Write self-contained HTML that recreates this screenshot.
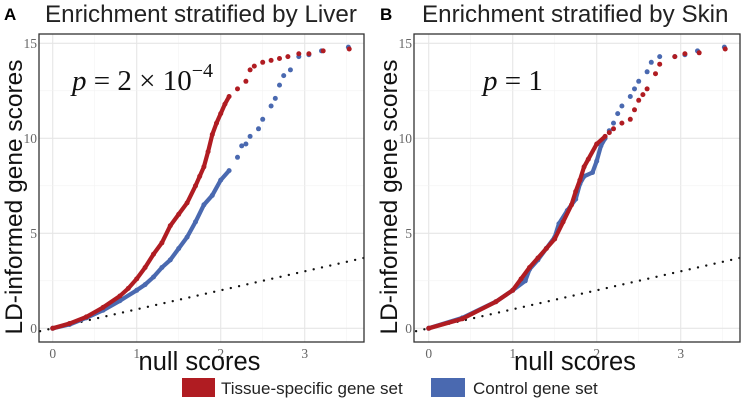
<!DOCTYPE html>
<html><head><meta charset="utf-8"><style>
body{margin:0;background:#fff;width:747px;height:404px;overflow:hidden;font-family:"Liberation Sans",sans-serif}
</style></head><body>
<svg id="s" width="747" height="404" xmlns="http://www.w3.org/2000/svg">
<text x="4" y="20" font-size="17" font-weight="bold">A</text>
<text x="45" y="22" font-size="24.2" fill="#222">Enrichment stratified by Liver</text>
<text x="380" y="20" font-size="17" font-weight="bold">B</text>
<text x="422" y="22" font-size="24.2" fill="#222">Enrichment stratified by Skin</text>
<rect x="182" y="378" width="33" height="19" fill="#b01c22"/>
<text x="221" y="394" font-size="17" fill="#222">Tissue-specific gene set</text>
<rect x="431" y="378" width="34" height="19" fill="#4a69b0"/>
<text x="473" y="394" font-size="17" fill="#222">Control gene set</text>
</svg>
<script>
const xTicks=[0,1,2,3];
const yTicks=[0,5,10,15];
const liverRedX=[0,0.2,0.4,0.6,0.8,0.9,1.0,1.1,1.2,1.3,1.4,1.5,1.6,1.7,1.75,1.8,1.85,1.9,1.95,2.0,2.05,2.1,2.2,2.3,2.35,2.4,2.5,2.6,2.7,2.8,2.93,3.05,3.22,3.53];
const liverRedY=[0,0.25,0.6,1.1,1.7,2.1,2.6,3.2,3.9,4.5,5.4,6.0,6.6,7.5,8.0,8.5,9.3,10.2,10.8,11.3,11.8,12.2,12.6,13.0,13.6,13.8,14.0,14.1,14.2,14.3,14.45,14.45,14.6,14.7];
const liverBlueX=[0,0.2,0.4,0.6,0.8,1.0,1.1,1.2,1.3,1.4,1.5,1.6,1.7,1.8,1.9,2.0,2.1,2.2,2.25,2.3,2.35,2.45,2.5,2.6,2.65,2.7,2.75,2.83,2.93,3.05,3.2,3.52];
const liverBlueY=[0,0.2,0.55,0.95,1.45,2.0,2.3,2.7,3.2,3.6,4.2,4.8,5.6,6.5,7.0,7.8,8.3,9.0,9.6,9.7,10.1,10.5,11.0,11.7,12.1,12.8,13.3,13.6,14.3,14.4,14.6,14.8];
const skinRedX=[0,0.4,0.8,1.0,1.1,1.2,1.3,1.4,1.5,1.6,1.7,1.75,1.8,1.85,1.9,2.0,2.1,2.15,2.2,2.3,2.4,2.45,2.5,2.55,2.6,2.7,2.75,2.93,3.05,3.22,3.53];
const skinRedY=[0,0.5,1.4,2.0,2.6,3.2,3.7,4.2,4.7,5.6,6.5,7.2,7.8,8.5,8.9,9.7,10.1,10.3,10.5,10.8,11.0,11.5,12.0,12.3,12.6,13.4,13.9,14.3,14.45,14.5,14.7];
const skinBlueX=[0,0.4,0.8,1.0,1.15,1.2,1.3,1.4,1.5,1.55,1.65,1.75,1.8,1.85,1.95,2.0,2.05,2.1,2.15,2.2,2.25,2.3,2.4,2.45,2.5,2.6,2.65,2.75,2.93,3.05,3.2,3.52];
const skinBlueY=[0,0.55,1.4,2.0,2.5,3.1,3.6,4.2,4.8,5.5,6.2,6.8,7.6,8.0,8.2,8.8,9.6,10.0,10.4,10.8,11.3,11.7,12.2,12.6,13.0,13.5,14.0,14.3,14.3,14.4,14.6,14.8];
const NS='http://www.w3.org/2000/svg';
const svg=document.getElementById('s');
function mk(t,a,p){const e=document.createElementNS(NS,t);for(const k in a)e.setAttribute(k,a[k]);(p||svg).appendChild(e);return e;}
const panels=[
 {id:'liver',left:39,right:364,x0:52.7,red:[liverRedX,liverRedY],blue:[liverBlueX,liverBlueY],ptext:'p = 2 × 10',sup:'−4',px:72},
 {id:'skin',left:414,right:740,x0:428.7,red:[skinRedX,skinRedY],blue:[skinBlueX,skinBlueY],ptext:'p = 1',sup:'',px:483}
];
const plotTop=34,plotBottom=342,y0=328.3,ky=19,kx=84;
panels.forEach(P=>{
 const g=mk('g',{});
 
 
 const X=v=>P.x0+v*kx, Y=v=>y0-v*ky;
 for(let v=-0.5;v<=4;v+=0.5){const x=X(v);if(x>P.left&&x<P.right){const l=mk('line',{x1:x,x2:x,y1:plotTop,y2:plotBottom,stroke:Number.isInteger(v)?'#e6e6e6':'#f2f2f2','stroke-width':Number.isInteger(v)?1.1:0.6},g);}}
 for(let v=0;v<=15;v+=2.5){const y=Y(v);const l=mk('line',{x1:P.left,x2:P.right,y1:y,y2:y,stroke:v%5===0?'#e6e6e6':'#f2f2f2','stroke-width':v%5===0?1.1:0.6},g);}
 const dl=mk('line',{x1:X(-0.15),y1:Y(-0.15),x2:X(3.75),y2:Y(3.75),stroke:'#111','stroke-width':2.4,'stroke-dasharray':'0 8.5','stroke-linecap':'round'},g);
 
 [['blue','#4a69b0',P.blue],['red','#b01c22',P.red]].forEach(([n,c,d])=>{
  const pts=[];for(let i=0;i<d[0].length;i++)if(d[0][i]<=2.1)pts.push(X(d[0][i])+','+Y(d[1][i]));
  const pl=mk('polyline',{points:pts.join(' '),fill:'none',stroke:c,'stroke-width':4.2,'stroke-linejoin':'round','stroke-linecap':'round'},g);
  
  for(let i=0;i<d[0].length;i++){const ci=mk('circle',{cx:X(d[0][i]),cy:Y(d[1][i]),r:2.5,fill:c},g);}
 });
 const fr=mk('rect',{x:P.left,y:plotTop,width:P.right-P.left,height:plotBottom-plotTop,fill:'none',stroke:'#333','stroke-width':1.3},g);
 
 xTicks.forEach(v=>{const t=mk('text',{x:X(v),y:358,'font-size':13.5,fill:'#666','text-anchor':'middle','font-family':'Liberation Serif,serif'},g);t.textContent=v;});
 yTicks.forEach(v=>{const t=mk('text',{x:P.left-2,y:Y(v)+4.5,'font-size':13.5,fill:'#666','text-anchor':'end','font-family':'Liberation Serif,serif'},g);t.textContent=v;});
 const xl=mk('text',{x:(P.left+P.right)/2-2,y:370,'font-size':25.5,fill:'#111','text-anchor':'middle'},g);xl.textContent='null scores';
 const yl=mk('text',{x:0,y:0,'font-size':24.5,fill:'#111','text-anchor':'middle',transform:'translate('+(P.left-17)+',197) rotate(-90)'},g);yl.textContent='LD-informed gene scores';
 const pt=mk('text',{x:P.px,y:90,'font-size':29,fill:'#111','font-family':'Liberation Serif,serif'},g);
 
 const ts=mk('tspan',{'font-style':'italic'},pt);ts.textContent='p';
 const t2=mk('tspan',{},pt);t2.textContent=P.ptext.slice(1);
 if(P.sup){const t3=mk('tspan',{dy:-13,'font-size':20},pt);t3.textContent=P.sup;}
});
</script>
</body></html>
